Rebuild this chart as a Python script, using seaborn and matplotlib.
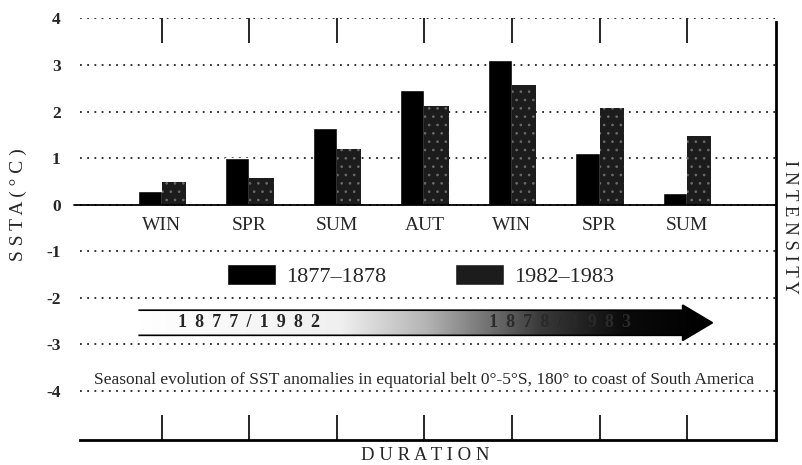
import numpy as np
import pandas as pd
import matplotlib
matplotlib.use("Agg")
import matplotlib.pyplot as plt
import seaborn as sns
from matplotlib.patches import Polygon
from matplotlib.colors import LinearSegmentedColormap

# Data
seasons = ["WIN", "SPR", "SUM", "AUT", "WIN", "SPR", "SUM"]
ssta_1877 = [0.30, 1.00, 1.65, 2.47, 3.10, 1.10, 0.25]
ssta_1982 = [0.48, 0.58, 1.20, 2.12, 2.58, 2.08, 1.48]
periods = ["1877\u20131878", "1982\u20131983"]
yticks = [4, 3, 2, 1, 0, -1, -2, -3, -4]

df = pd.DataFrame({
    "slot": list(range(len(seasons))) * 2,
    "ssta": ssta_1877 + ssta_1982,
    "period": [periods[0]] * len(seasons) + [periods[1]] * len(seasons),
})

sns.set_style("white")
plt.rcParams["font.family"] = ["Liberation Serif", "DejaVu Serif"]
plt.rcParams["hatch.linewidth"] = 0.7

fig = plt.figure(figsize=(8.03, 4.65), dpi=100)
ax = fig.add_axes([80 / 803, 25 / 465, 696 / 803, 421.5 / 465])

sns.barplot(data=df, x="slot", y="ssta", hue="period", hue_order=periods,
            palette=["#000000", "#1c1c1c"], width=0.55, gap=0,
            saturation=1, ax=ax, legend=True, zorder=2)
# speckled look for the 1982-83 bars
for bar in ax.containers[1]:
    bar.set_hatch("..")
    bar.set_edgecolor("#6a6a6a")
    bar.set_linewidth(0)

# grid and zero line
ax.set_yticks(yticks)
ax.set_yticklabels([str(t) for t in yticks], fontsize=12.5, fontweight="bold")
ax.yaxis.grid(True, linestyle=(0, (1, 3)), color="#222222", linewidth=1.3)
ax.xaxis.grid(False)
ax.set_axisbelow(True)
ax.axhline(0, xmin=-0.008, xmax=1, color="black", linewidth=1.3,
           clip_on=False, zorder=3)
ax.tick_params(axis="y", length=0, pad=14)

# tick marks at group centres, inside, top and bottom
ax.set_xticks(range(len(seasons)))
ax.set_xticklabels([])
ax.tick_params(axis="x", direction="in", length=18, width=1.2,
               top=True, bottom=True, color="black")
ax.set_xlabel("")
ax.set_ylabel("")

for side in ["left", "top"]:
    ax.spines[side].set_visible(False)
for side in ["right", "bottom"]:
    ax.spines[side].set_visible(True)
    ax.spines[side].set_color("black")
    ax.spines[side].set_linewidth(2)
ax.spines["right"].set_bounds(-5.06, 3.92)

# season labels under zero line
for i, s in enumerate(seasons):
    ax.text(i, -0.44, s, ha="center", va="center", fontsize=14)

# legend
handles, labels = ax.get_legend_handles_labels()
ax.get_legend().remove()
leg = ax.legend(handles, labels, ncol=2, frameon=False, fontsize=16,
                loc="center", bbox_to_anchor=(0.489, 0.39),
                handlelength=2.2, handleheight=1.1, handletextpad=0.45,
                columnspacing=3.1)
leg.set_zorder(6)

# gradient arrow
x0, x1, xh = -0.27, 6.29, 5.95
yb_top, yb_bot = -2.27, -2.81
yh_top, yh_bot = -2.16, -2.92
ymid = (yb_top + yb_bot) / 2
pts = [(x0, yb_bot), (xh, yb_bot), (xh, yh_bot), (x1, ymid),
       (xh, yh_top), (xh, yb_top), (x0, yb_top)]
arrow = Polygon(pts, closed=False, facecolor="none", edgecolor="black",
                linewidth=1.2, zorder=4)
ax.add_patch(arrow)
cmap = LinearSegmentedColormap.from_list(
    "arr", [(0, "#ffffff"), (0.35, "#f0f0f0"), (0.5, "#b5b5b5"),
            (0.7, "#3a3a3a"), (0.85, "#0a0a0a"), (1, "#000000")])
grad = np.linspace(0, 1, 256).reshape(1, -1)
im = ax.imshow(grad, extent=(x0, x1, yh_bot, yh_top), aspect="auto",
               cmap=cmap, zorder=3, interpolation="bilinear")
im.set_clip_path(arrow)
ax.set_xlim(-0.937, 7.017)
ax.set_ylim(-5.06, 4.0)
sep = " \u2009"
ax.text(1.0, ymid, sep.join("1877/1982"), ha="center", va="center",
        fontsize=13, fontweight="bold", zorder=5)
ax.text(4.55, ymid, sep.join("1878/1983"), ha="center", va="center",
        fontsize=13, fontweight="bold", color="#2a2a2a", zorder=5)

# caption
ax.text(3.0, -3.78,
        "Seasonal evolution of SST anomalies in equatorial belt 0\u00b0-5\u00b0S, 180\u00b0 to coast of South America",
        ha="center", va="center", fontsize=12.5, zorder=5)

# axis titles
fig.text(18 / 803, 1 - 205 / 465, "S S T A ( \u00b0 C )", rotation=90,
         ha="center", va="center", fontsize=14)
fig.text(790 / 803, 1 - 227 / 465, "I N T E N S I T Y", rotation=-90,
         ha="center", va="center", fontsize=13.5)
fig.text(425 / 803, 1 - 455 / 465, "D U R A T I O N", ha="center",
         va="center", fontsize=13.5)

fig.savefig("out.png", dpi=100)
